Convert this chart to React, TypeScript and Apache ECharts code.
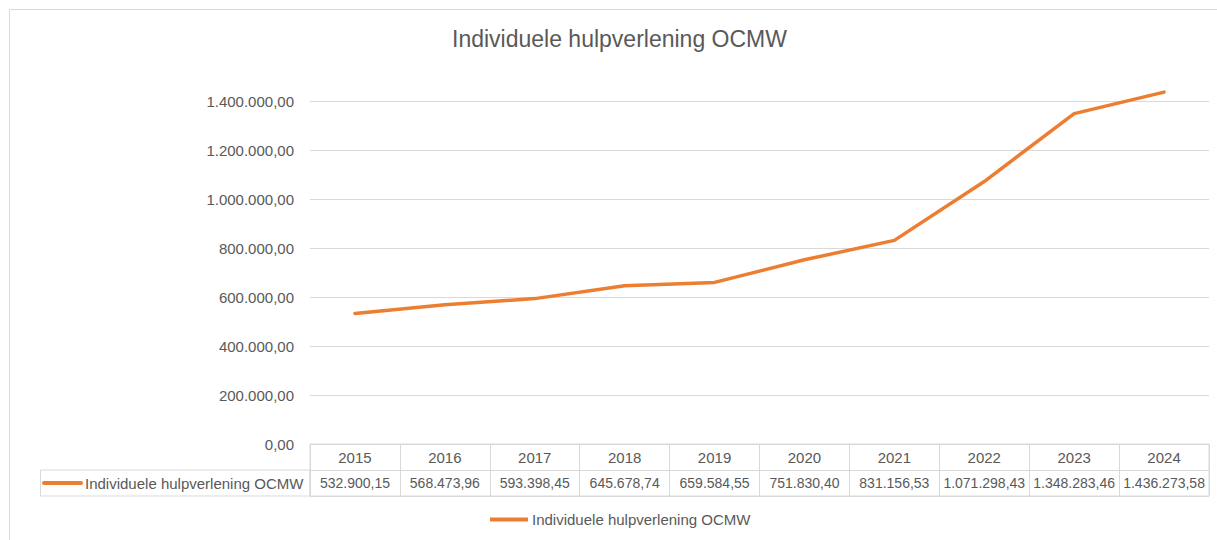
import React, { useEffect, useRef } from "react";
import * as echarts from "echarts";

const title = "Individuele hulpverlening OCMW";
const seriesName = "Individuele hulpverlening OCMW";
const years = ["2015", "2016", "2017", "2018", "2019", "2020", "2021", "2022", "2023", "2024"];
const values = [532900.15, 568473.96, 593398.45, 645678.74, 659584.55, 751830.4, 831156.53, 1071298.43, 1348283.46, 1436273.58];
const yMin = 0;
const yMax = 1400000;
const yInterval = 200000;

const FONT = "'Liberation Sans', Arial, sans-serif";
const TEXT = "#595959";
const GRID = "#d9d9d9";
const ORANGE = "#ED7D31";

function fmt(n: number): string {
  const fixed = Math.abs(n).toFixed(2);
  const [intPart, dec] = fixed.split(".");
  let out = "";
  for (let i = 0; i < intPart.length; i++) {
    if (i > 0 && (intPart.length - i) % 3 === 0) out += ".";
    out += intPart[i];
  }
  return (n < 0 ? "-" : "") + out + "," + dec;
}

export default function App() {
  const ref = useRef<HTMLDivElement>(null);
  useEffect(() => {
    if (!ref.current) return;
    const chart = echarts.init(ref.current, undefined, { renderer: "svg" });
    const tableText = (rowIdx: number, labels: string[], size: number) => ({
      type: "custom",
      xAxisIndex: 1,
      yAxisIndex: 1,
      silent: true,
      data: labels.map((_, i) => [i, rowIdx]),
      renderItem: (params: any, api: any) => {
        const p = api.coord([api.value(0), api.value(1)]);
        return {
          type: "text",
          x: p[0],
          y: p[1],
          style: {
            text: labels[params.dataIndex],
            align: "center",
            verticalAlign: "middle",
            fontSize: size,
            fontFamily: FONT,
            fill: TEXT,
          },
        };
      },
    });
    chart.setOption({
      animation: false,
      title: {
        text: title,
        left: 452,
        top: 27,
        padding: 0,
        textStyle: { fontSize: 23, fontWeight: "normal", color: TEXT, fontFamily: FONT },
      },
      legend: {
        data: [seriesName],
        left: 490,
        top: 512,
        padding: 0,
        icon: "rect",
        itemWidth: 38,
        itemHeight: 4,
        textStyle: { fontSize: 15, color: TEXT, fontFamily: FONT, padding: [0, 0, 0, -1] },
      },
      grid: [
        { left: 310, right: 8, top: 101, height: 343, containLabel: false },
        { left: 310, right: 8, top: 444, height: 52, show: true, borderColor: GRID, borderWidth: 1, containLabel: false },
      ],
      xAxis: [
        { type: "category", gridIndex: 0, data: years, boundaryGap: true, show: false },
        {
          type: "category",
          gridIndex: 1,
          data: years,
          boundaryGap: true,
          axisLabel: { show: false },
          axisTick: { show: false },
          axisLine: { show: false },
          splitLine: { show: true, lineStyle: { color: GRID, width: 1 } },
        },
      ],
      yAxis: [
        {
          type: "value",
          gridIndex: 0,
          min: yMin,
          max: yMax,
          interval: yInterval,
          axisLine: { show: false },
          axisTick: { show: false },
          axisLabel: { formatter: (v: number) => fmt(v), fontSize: 15, color: TEXT, fontFamily: FONT, margin: 16 },
          splitLine: { lineStyle: { color: GRID, width: 1 } },
        },
        {
          type: "category",
          gridIndex: 1,
          data: ["val", "yr"],
          axisLabel: { show: false },
          axisTick: { show: false },
          axisLine: { show: false },
          splitLine: { show: true, lineStyle: { color: GRID, width: 1 } },
        },
      ],
      series: [
        {
          name: seriesName,
          type: "line",
          xAxisIndex: 0,
          yAxisIndex: 0,
          data: values,
          showSymbol: false,
          symbol: "none",
          clip: false,
          lineStyle: { color: ORANGE, width: 3.5, cap: "round", join: "round" },
          itemStyle: { color: ORANGE },
        },
        tableText(1, years, 15),
        tableText(0, values.map(fmt), 14),
      ],
      graphic: [
        {
          type: "rect",
          silent: true,
          shape: { x: 9.5, y: 9.5, width: 1230, height: 560 },
          style: { fill: "none", stroke: GRID, lineWidth: 1 },
        },
        {
          type: "rect",
          silent: true,
          shape: { x: 40.5, y: 470, width: 269.5, height: 26 },
          style: { fill: "none", stroke: GRID, lineWidth: 1 },
        },
        {
          type: "line",
          silent: true,
          shape: { x1: 44, y1: 483, x2: 81, y2: 483 },
          style: { stroke: ORANGE, lineWidth: 4, lineCap: "round" },
        },
        {
          type: "text",
          silent: true,
          x: 85,
          y: 483,
          style: { text: seriesName, fontSize: 15, fontFamily: FONT, fill: TEXT, verticalAlign: "middle", align: "left" },
        },
      ],
    });
    return () => chart.dispose();
  }, []);
  return <div ref={ref} style={{ position: "absolute", left: 0, top: 0, width: 1217, height: 540, background: "#fff" }} />;
}
